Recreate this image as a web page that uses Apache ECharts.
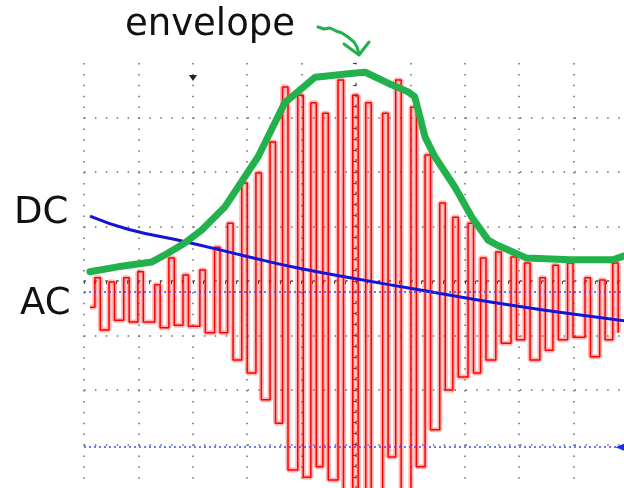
<!DOCTYPE html>
<html>
<head>
<meta charset="utf-8">
<script src="https://cdn.jsdelivr.net/npm/echarts@6/dist/echarts.min.js"></script>
<style>
  html, body {margin: 0; padding: 0; background: #fff;}
  #chart {width: 624px; height: 488px;}
</style>
</head>
<body>
<div id="chart"></div>
<script>
// time in divisions (-5..5), level in divisions (-4..4)
// AC trace: rising edge -> peak level, falling edge -> trough level
const acT = [-4.89,
  -4.80, -4.70, -4.54, -4.44, -4.27, -4.17, -4.01, -3.91, -3.70, -3.60,
  -3.44, -3.34, -3.18, -3.08, -2.87, -2.77, -2.60, -2.50, -2.36, -2.26,
  -2.10, -2.00, -1.84, -1.74, -1.58, -1.48, -1.35, -1.25, -1.07, -0.97,
  -0.83, -0.73, -0.61, -0.51, -0.33, -0.23, -0.06, 0.04, 0.18, 0.28,
  0.49, 0.59, 0.73, 0.83, 1.01, 1.11, 1.27, 1.37, 1.54, 1.64,
  1.78, 1.88, 2.06, 2.16, 2.29, 2.39, 2.57, 2.67, 2.85, 2.95,
  3.10, 3.20, 3.38, 3.48, 3.62, 3.72, 3.89, 3.99, 4.21, 4.31,
  4.48, 4.58, 4.72, 4.82];
const acV = [-0.48,
  0.06, -0.90, -0.02, -0.72, 0.06, -0.75, 0.17, -0.75, -0.07, -0.86,
  0.42, -0.81, 0.11, -0.83, 0.20, -0.95, 0.62, -0.95, 1.06, -1.45,
  1.80, -1.69, 1.98, -2.18, 2.55, -2.61, 3.56, -3.47, 3.41, -3.60,
  3.27, -3.41, 3.08, -3.65, 3.69, -3.93, 3.41, -3.93, 3.27, -3.93,
  3.08, -3.23, 3.69, -3.93, 3.19, -3.41, 2.31, -2.73, 1.43, -2.00,
  1.17, -1.76, 1.06, -1.69, 0.42, -1.45, 0.53, -1.14, 0.44, -1.08,
  0.33, -1.45, 0.06, -1.27, 0.29, -1.08, 0.33, -1.03, 0.06, -1.39,
  0.02, -1.08, 0.33, -0.95];

const dcT = [-4.89, -4.19, -3.14, -2.04, -1.18, 0, 1.21, 2.56, 3.88, 4.93];
const dcV = [1.19, 0.95, 0.72, 0.46, 0.26, 0.04, -0.17, -0.40, -0.59, -0.73];

const envT = [-4.89, -4.38, -3.75, -3.46, -3.14, -2.83, -2.41, -1.80, -1.31, -0.75,
  0.04, 0.17, 0.59, 0.96, 1.08, 1.27, 1.45, 1.82, 2.13, 2.43,
  2.59, 3.14, 3.93, 4.72, 4.93];
const envV = [0.17, 0.26, 0.35, 0.51, 0.70, 0.94, 1.36, 2.28, 3.27, 3.74,
  3.82, 3.83, 3.63, 3.47, 3.38, 2.64, 2.28, 1.72, 1.17, 0.75,
  0.66, 0.42, 0.39, 0.39, 0.46];

const refLevels = [-0.2, -3.05];

const zip = (a, b) => a.map((v, i) => [v, b[i]]);
const grey = '#6a6a6a';
const dots = [1.5, 9.4];
const green = '#22b14c';

const myChart = echarts.init(document.getElementById('chart'));
myChart.setOption({
  animation: false,
  grid: {left: 84, top: 63, width: 544, height: 436, outerBoundsMode: 'none'},
  xAxis: {
    type: 'value', min: -5, max: 5, interval: 1,
    axisLine: {show: true, onZero: true, lineStyle: {color: grey, type: dots, width: 1.5}},
    axisTick: {show: true, length: 3, lineStyle: {color: '#444'}},
    minorTick: {show: true, splitNumber: 5, length: 3, lineStyle: {color: '#444'}},
    axisLabel: {show: false},
    splitLine: {show: true, lineStyle: {color: grey, type: dots, width: 1.5}}
  },
  yAxis: {
    type: 'value', min: -4, max: 4, interval: 1,
    axisLine: {show: true, onZero: true, lineStyle: {color: grey, type: dots, width: 1.5}},
    axisTick: {show: true, length: 3, lineStyle: {color: '#444'}},
    minorTick: {show: true, splitNumber: 5, length: 3, lineStyle: {color: '#444'}},
    axisLabel: {show: false},
    splitLine: {show: true, showMaxLine: false, lineStyle: {color: grey, type: dots, width: 1.5}}
  },
  series: [{
    // persistence halo under the AC trace
    name: 'AC glow',
    type: 'line',
    data: zip(acT, acV),
    step: 'end',
    symbol: 'none',
    silent: true,
    lineStyle: {color: 'rgba(255,40,40,0.35)', width: 5},
    z: 1
  }, {
    name: 'AC',
    type: 'line',
    data: zip(acT, acV),
    step: 'end',
    symbol: 'none',
    lineStyle: {color: '#ff0000', width: 1.5},
    markLine: {
      silent: true,
      symbol: 'none',
      label: {show: false},
      lineStyle: {color: '#3b4cf5', type: [2, 3], width: 1.5},
      data: refLevels.map(v => ({yAxis: v}))
    },
    markPoint: {
      silent: true,
      symbol: 'triangle',
      symbolSize: [10, 12],
      symbolRotate: 90,
      itemStyle: {color: '#1a2cf0'},
      label: {show: false},
      data: [{coord: [4.88, refLevels[1]]}]
    },
    z: 2
  }, {
    name: 'DC',
    type: 'line',
    data: zip(dcT, dcV),
    smooth: true,
    symbol: 'none',
    lineStyle: {color: '#1414d8', width: 3},
    z: 3
  }, {
    name: 'envelope',
    type: 'line',
    data: zip(envT, envV),
    symbol: 'none',
    lineStyle: {color: green, width: 7, join: 'round', cap: 'round'},
    z: 4
  }],
  graphic: [
    {type: 'text', left: 125, top: 7, z: 10,
      style: {text: 'envelope', font: '37px "DejaVu Sans"', fill: '#111'}},
    {type: 'text', left: 14, top: 195, z: 10,
      style: {text: 'DC', font: '37px "DejaVu Sans"', fill: '#111'}},
    {type: 'text', left: 20, top: 286, z: 10,
      style: {text: 'AC', font: '37px "DejaVu Sans"', fill: '#111'}},
    {type: 'polyline', z: 10,
      shape: {points: [[318, 27], [324, 29], [330, 28], [336, 31], [342, 33], [348, 37], [354, 42], [357, 47], [359, 54]]},
      style: {stroke: green, lineWidth: 3, fill: null, lineCap: 'round', lineJoin: 'round'}},
    {type: 'polyline', z: 10,
      shape: {points: [[344, 44], [359, 55], [369, 42]]},
      style: {stroke: green, lineWidth: 3, fill: null, lineCap: 'round', lineJoin: 'round'}},
    {type: 'polygon', z: 10,
      shape: {points: [[189, 75], [197, 75], [193, 81]]},
      style: {fill: '#222'}}
  ]
});
</script>
</body>
</html>
